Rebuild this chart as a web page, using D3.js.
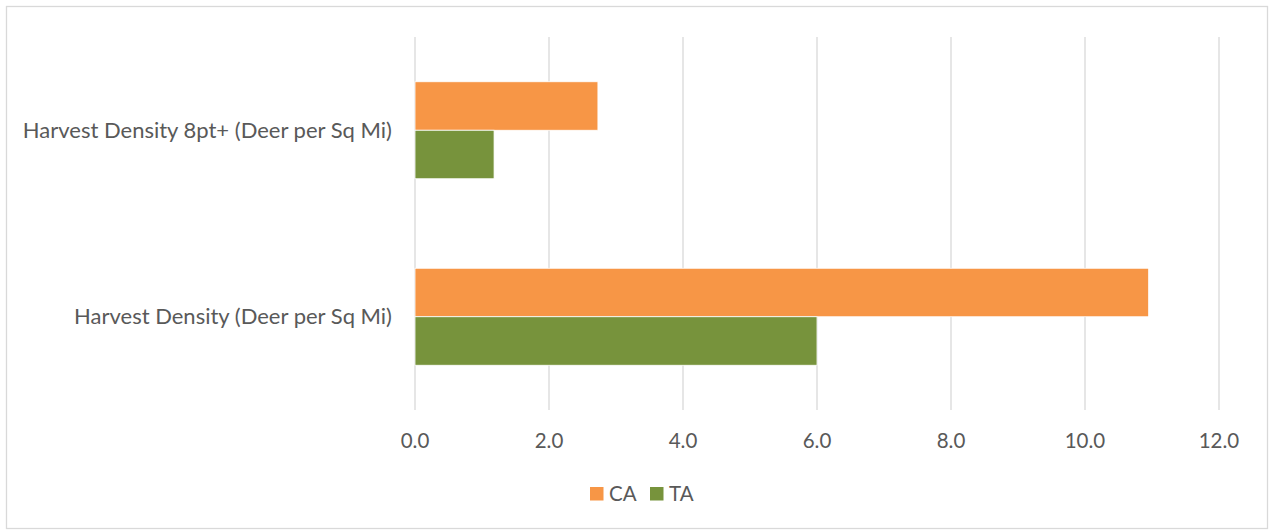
<!DOCTYPE html>
<html>
<head>
<meta charset="utf-8">
<script src="https://cdn.jsdelivr.net/npm/d3@7"></script>
<style>
  body { margin: 0; background: #fff; }
  text { font-family: Lato, "Open Sans", sans-serif; fill: #595959; }
</style>
</head>
<body>
<div id="chart"></div>
<script>
// categories, top to bottom
const categories = ["Harvest Density 8pt+ (Deer per Sq Mi)", "Harvest Density (Deer per Sq Mi)"];
const seriesNames = ["CA", "TA"];
const caValues = [2.73, 10.95];
const taValues = [1.18, 6.0];
const tickValues = [0, 2, 4, 6, 8, 10, 12];
const colors = ["#f79646", "#77933c"];

const width = 1270;
const height = 531;
const margin = { top: 37, right: 51, bottom: 121, left: 415 };

const svg = d3.select("#chart")
    .append("svg")
    .attr("width", width)
    .attr("height", height);

// chart frame
svg.append("rect")
    .attr("x", 6.5).attr("y", 6.5)
    .attr("width", width - 9).attr("height", height - 9)
    .attr("fill", "none")
    .attr("stroke", "#d9d9d9")
    .attr("stroke-width", 1.3);

const x = d3.scaleLinear()
    .domain([0, 12])
    .range([margin.left, width - margin.right]);

const y = d3.scaleBand()
    .domain(categories)
    .range([margin.top, height - margin.bottom])
    .paddingInner(0.48)
    .paddingOuter(0.24);

const ySub = d3.scaleBand()
    .domain(seriesNames)
    .range([0, y.bandwidth()]);

// gridlines
svg.append("g")
    .selectAll("line")
    .data(tickValues)
    .enter()
    .append("line")
    .attr("x1", d => x(d)).attr("x2", d => x(d))
    .attr("y1", margin.top).attr("y2", height - margin.bottom)
    .attr("stroke", "#d9d9d9")
    .attr("stroke-width", 1.3);

// tick labels
svg.append("g")
    .selectAll("text")
    .data(tickValues)
    .enter()
    .append("text")
    .attr("x", d => x(d))
    .attr("y", 448)
    .attr("text-anchor", "middle")
    .style("font-size", "20.5px")
    .text(d => d.toFixed(1));

// category labels
svg.append("g")
    .selectAll("text")
    .data(categories)
    .enter()
    .append("text")
    .attr("x", margin.left - 23)
    .attr("y", d => y(d) + y.bandwidth() / 2 + 7.5)
    .attr("text-anchor", "end")
    .style("font-size", "22px")
    .text(d => d);

// bars
const rows = categories.map((c, i) => ({ cat: c, values: [caValues[i], taValues[i]] }));

const groups = svg.selectAll(".grp")
    .data(rows)
    .enter()
    .append("g")
    .attr("class", "grp")
    .attr("transform", d => `translate(0,${y(d.cat)})`);

groups.selectAll("rect")
    .data(d => d.values.map((v, j) => ({ name: seriesNames[j], value: v, color: colors[j] })))
    .enter()
    .append("rect")
    .attr("x", x(0))
    .attr("y", d => ySub(d.name))
    .attr("width", d => x(d.value) - x(0))
    .attr("height", ySub.bandwidth())
    .attr("fill", d => d.color)
    .attr("stroke", "#fff")
    .attr("stroke-width", 0.8);

// legend
const legendPos = [590, 650];
const legend = svg.append("g")
    .selectAll("g")
    .data(seriesNames)
    .enter()
    .append("g")
    .attr("transform", (d, i) => `translate(${legendPos[i]},487)`);

legend.append("rect")
    .attr("width", 13.5).attr("height", 13.5)
    .attr("fill", (d, i) => colors[i]);

legend.append("text")
    .attr("x", 19)
    .attr("y", 14)
    .style("font-size", "20.5px")
    .text(d => d);
</script>
</body>
</html>
